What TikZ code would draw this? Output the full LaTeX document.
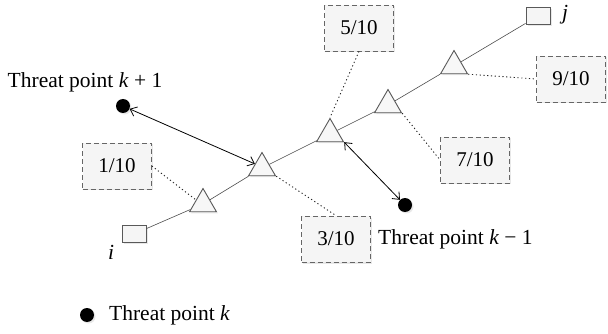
\documentclass[tikz,border=0pt]{standalone}
\usepackage{fontspec}
\setmainfont{Liberation Serif}
\usetikzlibrary{shapes.geometric,arrows.meta,shadows}
\begin{document}
\begin{tikzpicture}[x=1pt,y=-1pt,
  txt/.style={font=\fontsize{21.5}{24}\selectfont, inner sep=0pt},
  shad/.style={drop shadow={opacity=0.18,shadow xshift=1.5pt,shadow yshift=-1.5pt}},
  tri/.style={regular polygon, regular polygon sides=3, minimum size=31pt, inner sep=0pt,
    draw=black!65, fill=black!3, line width=0.9pt, shad},
  sq/.style={draw=black!65, fill=black!4, minimum width=24pt, minimum height=17pt,
    inner sep=0pt, line width=0.9pt, shad},
  dashbox/.style={draw=black!60, dash pattern=on 5pt off 3pt, fill=black!4,
    minimum width=69pt, minimum height=46pt, line width=0.8pt, shad,
    font=\fontsize{21}{24}\selectfont},
  blackdot/.style={circle, fill=black, minimum size=14pt, inner sep=0pt, shad},
  leader/.style={black!85, line width=0.9pt, dash pattern=on 1.2pt off 2.6pt},
  route/.style={black!70, line width=0.6pt},
  arr/.style={{Straight Barb[length=6pt,width=10pt]}-{Straight Barb[length=6pt,width=10pt]}, line width=0.8pt}
]
\useasboundingbox (0,0) rectangle (608,334);

% route nodes
\node[sq] (i) at (134,234) {};
\node[sq] (j) at (538,16) {};
\node[tri] (t1) at (203,204) {};
\node[tri] (t2) at (262,168) {};
\node[tri] (t3) at (330,134) {};
\node[tri] (t4) at (388,105) {};
\node[tri] (t5) at (454,66) {};

\node[txt, font=\fontsize{21.5}{24}\selectfont\itshape] (li) at (111,252) {i};
\node[txt, font=\fontsize{21.5}{24}\selectfont\itshape] (lj) at (565,15) {j};

\draw[route] (i) -- (t1) -- (t2) -- (t3) -- (t4) -- (t5) -- (j);

% probability boxes
\node[dashbox] (b1) at (117,166) {1/10};
\node[dashbox] (b3) at (336,239) {3/10};
\node[dashbox] (b5) at (359,28) {5/10};
\node[dashbox] (b7) at (475,160) {7/10};
\node[dashbox] (b9) at (571,79) {9/10};

\draw[leader] (b1.east) -- (t1.side 1);
\draw[leader] (t2.corner 3) -- (b3.north);
\draw[leader] (b5.south) -- (t3.corner 1);
\draw[leader] (t4.corner 3) -- (b7.west);
\draw[leader] (t5.corner 3) -- (b9.west);

% threat points
\node[blackdot] (kp1) at (123,106) {};
\node[blackdot] (km1) at (405,205) {};
\node[txt] (lkp1) at (85,82) {Threat point \textit{k} + 1};
\node[txt, anchor=west] (lkm1) at (378,239) {Threat point \textit{k} − 1};

\draw[arr] (kp1) -- (t2.side 1);
\draw[arr] (t3.corner 3) -- (km1);

% legend
\node[blackdot] (kl) at (87,315) {};
\node[txt, anchor=west] (lk) at (109,315) {Threat point \textit{k}};
\end{tikzpicture}
\end{document}
